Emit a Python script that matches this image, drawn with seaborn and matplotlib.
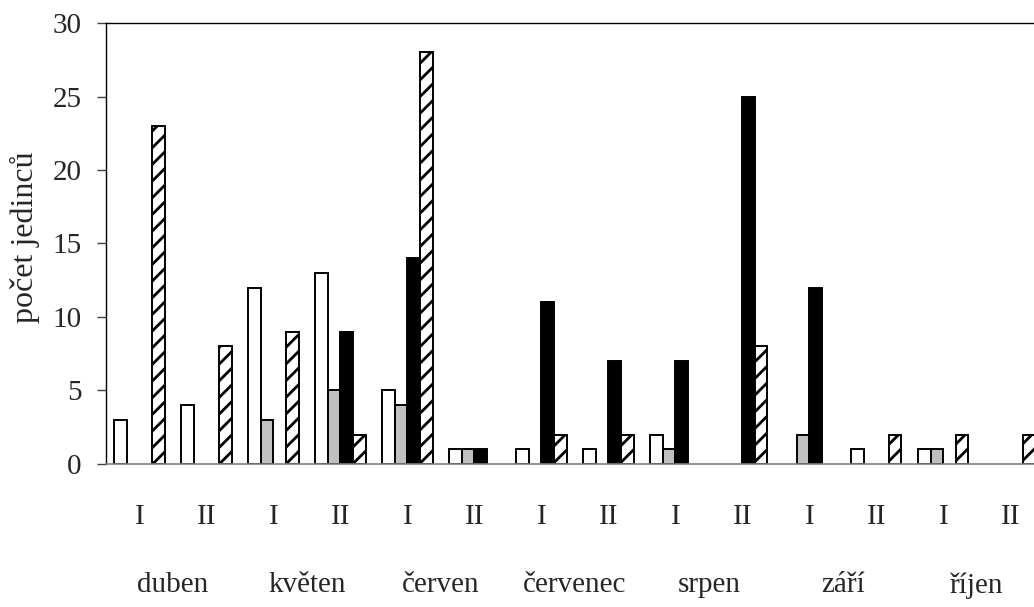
import matplotlib
matplotlib.use('Agg')
import matplotlib.pyplot as plt
import matplotlib.transforms as mtransforms
import numpy as np
import pandas as pd
import seaborn as sns

# ---- data ----
months = ['duben', 'květen', 'červen', 'červenec', 'srpen', 'září', 'říjen']
halves = ['I', 'II']
series = ['řada 1', 'řada 2', 'řada 3', 'řada 4']
white_vals = [3, 4, 12, 13, 5, 1, 1, 1, 2, 0, 0, 1, 1, 0]
gray_vals = [0, 0, 3, 5, 4, 1, 0, 0, 1, 0, 2, 0, 1, 0]
black_vals = [0, 0, 0, 9, 14, 1, 11, 7, 7, 25, 12, 0, 0, 0]
hatch_vals = [23, 8, 9, 2, 28, 0, 2, 2, 0, 8, 0, 2, 2, 2]
yticks = [0, 5, 10, 15, 20, 25, 30]

keys = [f'{m} {h}' for m in months for h in halves]
half_labels = [h for m in months for h in halves]

df = pd.DataFrame({
    'obdobi': keys * 4,
    'rada': np.repeat(series, len(keys)),
    'pocet': np.concatenate([white_vals, gray_vals, black_vals, hatch_vals]),
})

sns.set_theme(style='white')
plt.rcParams['font.family'] = ['Liberation Serif', 'DejaVu Serif']
plt.rcParams['hatch.linewidth'] = 2.0
plt.rcParams['hatch.color'] = 'black'

fig = plt.figure(figsize=(10.34, 6.07), dpi=100)
ax = fig.add_axes([0.1025, 0.2356, 0.907, 0.7265])

sns.barplot(data=df, x='obdobi', y='pocet', hue='rada', order=keys,
            hue_order=series, palette=['white', '#c0c0c0', 'black', 'white'],
            width=0.75, edgecolor='black', linewidth=1.4, saturation=1,
            legend=False, ax=ax)

for bar in ax.containers[3]:
    bar.set_hatch('//')
for p in ax.patches:
    if p.get_height() == 0:
        p.set_visible(False)

ax.set_xlim(-0.5, len(keys) - 0.5)
ax.set_ylim(0, 30)
ax.set_yticks(yticks)
ax.set_xticks(range(len(keys)))
ax.set_xticklabels(half_labels)
ax.set_xlabel('')
ax.set_ylabel('počet jedinců', fontsize=23)
ax.yaxis.set_label_coords(-0.070, 0.515)

ax.tick_params(axis='y', direction='out', length=6.5, width=1, color='#404040',
               labelsize=21, pad=11, left=True)
ax.tick_params(axis='x', length=0, labelsize=21, pad=29)

for s in ['left', 'top']:
    ax.spines[s].set_color('black')
    ax.spines[s].set_linewidth(1.0)
ax.spines['bottom'].set_color('#808080')
ax.spines['bottom'].set_linewidth(1.2)
ax.spines['right'].set_visible(False)

trans = mtransforms.blended_transform_factory(ax.transData, ax.transAxes)
for i, m in enumerate(months):
    ax.text(2 * i + 0.5, -0.275, m, transform=trans, ha='center', va='center',
            fontsize=21)

fig.savefig('out.png', dpi=100)
